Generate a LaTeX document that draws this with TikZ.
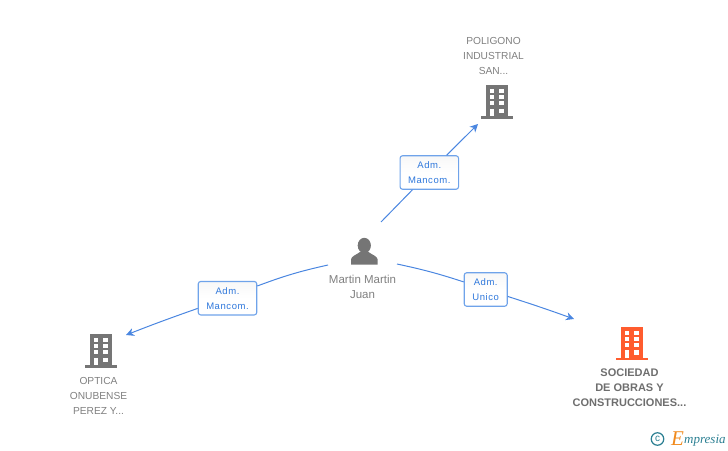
\documentclass[tikz,border=0pt]{standalone}
\usepackage{fontspec}
\setmainfont{Liberation Sans}
\newfontfamily\logofont{Liberation Serif}
\newfontfamily\rolefont[LetterSpace=6]{Liberation Sans}
\usetikzlibrary{arrows.meta,shapes}
\definecolor{linkblue}{HTML}{4A86E0}
\definecolor{boxblue}{HTML}{6FA3EA}
\definecolor{rolblue}{HTML}{2F78DC}
\definecolor{iconhue}{HTML}{757575}
\definecolor{namehue}{HTML}{808080}
\definecolor{boldhue}{HTML}{6E6E6E}
\definecolor{mainhue}{HTML}{FF5C2E}
\definecolor{logoteal}{HTML}{2B7F92}
\definecolor{logoorange}{HTML}{F08A1D}
\tikzset{
  link/.style={linkblue,line width=1pt},
  tip/.style={link,-{Stealth[length=8pt,width=8pt,inset=2.5pt]}},
  rolebox/.style={draw=boxblue,line width=1.1pt,rounded corners=2.5pt,top color=black!3,bottom color=white,middle color=white,
    text=rolblue,font=\rolefont\fontsize{9.5}{15}\selectfont,align=center,inner sep=0pt},
  namelabel/.style={text=namehue,font=\fontsize{10.2}{15}\selectfont,align=center,inner sep=0pt},
  boldlabel/.style={text=boldhue,font=\fontsize{11}{15}\selectfont\bfseries,align=center,inner sep=0pt},
  building/.pic={
    \fill[pic actions] (-11.3,0) rectangle (11.3,32);
    \fill[pic actions] (-15.7,31) rectangle (15.7,33.7);
    \foreach \r in {3.8,9.8,16}{
      \fill[white] (-7.3,\r) rectangle (-2.8,\r+4.2);
      \fill[white] (2.1,\r) rectangle (6.8,\r+4.2);
    }
    \fill[white] (-7.3,23.7) rectangle (-2.8,31);
    \fill[white] (2.1,23.7) rectangle (6.8,27.9);
  },
}
\begin{document}
\begin{tikzpicture}[x=1pt,y=-1pt]
\useasboundingbox (0,0) rectangle (728,450);
\coordinate (startPol) at (381,222);
\coordinate (endPol) at (478,124);
\coordinate (startOpt) at (328,265);
\coordinate (endOpt) at (126,335);
\coordinate (startSoc) at (397,264);
\coordinate (endSoc) at (574,319);
\node[rolebox,minimum width=58.5pt,minimum height=33.5pt] (boxPol) at (429.3,172.5) {Adm.\\Mancom.};
\node[rolebox,minimum width=58.5pt,minimum height=33.5pt] (boxOpt) at (227.5,298.2) {Adm.\\Mancom.};
\node[rolebox,minimum width=43pt,minimum height=33.5pt] (boxSoc) at (485.7,289.5) {Adm.\\Unico};
\draw[link] (startPol) -- (boxPol);
\draw[tip] (boxPol) -- (endPol);
\draw[link] (startOpt) to[bend right=4] (boxOpt);
\draw[tip] (boxOpt) to[bend right=1] (endOpt);
\draw[link] (startSoc) to[bend left=3] (boxSoc);
\draw[tip] (boxSoc) to[bend left=1] (endSoc);
\fill[iconhue] (364.3,245.5) ellipse (6.6pt and 7.7pt);
\fill[iconhue] (351,264.7) -- (351,259.5) .. controls (351.5,256) and (356,255) .. (360,252) -- (368.5,252) .. controls (372.5,255) and (377,256) .. (377.7,259.5) -- (377.7,264.7) -- cycle;
\node[namelabel,font=\fontsize{11.5}{15}\selectfont] (martin) at (362.5,286.5) {Martin Martin\\Juan};
\pic[fill=iconhue] at (497,85) {building};
\node[namelabel] (poligono) at (493.5,56.4) {POLIGONO\\INDUSTRIAL\\SAN...};
\pic[fill=iconhue] at (101,334) {building};
\node[namelabel] (optica) at (98.5,395.6) {OPTICA\\ONUBENSE\\PEREZ Y...};
\pic[fill=mainhue] at (632,326.7) {building};
\node[boldlabel] (sociedad) at (629.5,388) {SOCIEDAD\\DE OBRAS Y\\CONSTRUCCIONES...};
\node[draw=logoteal,line width=1.2pt,circle,text=logoteal,inner sep=0pt,minimum size=12.5pt,font=\fontsize{10}{10}\selectfont] (copyr) at (657.5,439) {c};
\node[anchor=base west,inner sep=0pt,text=logoorange,font=\logofont\itshape\fontsize{21}{21}\selectfont] (logoe) at (671,445) {E};
\node[anchor=base west,inner sep=0pt,text=logoteal,font=\logofont\itshape\fontsize{13}{13}\selectfont] (logorest) at (684,443) {mpresia};
\end{tikzpicture}
\end{document}
